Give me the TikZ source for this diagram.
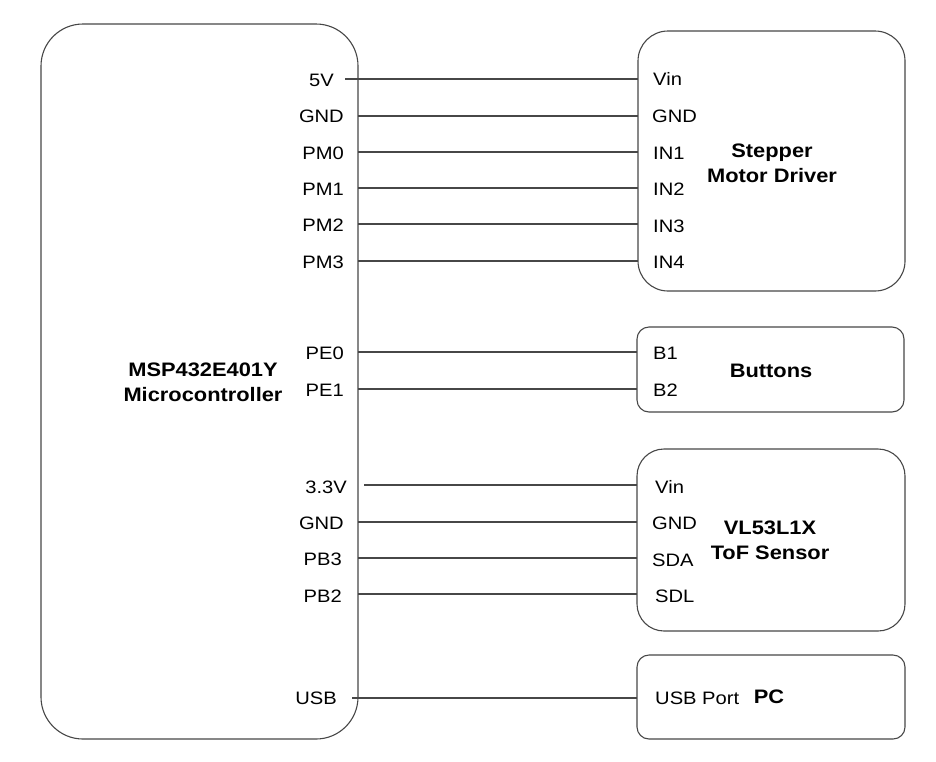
\documentclass[tikz,border=0pt]{standalone}
\usepackage{fontspec}
\setmainfont{Liberation Sans}[FakeStretch=1.12]
\newcommand\pinfont{\fontsize{18}{21}\selectfont}
\newcommand\titlefont{\fontsize{19.5}{25}\selectfont\bfseries}
\begin{document}
\begin{tikzpicture}[x=1pt,y=-1pt,
  boxstyle/.style={draw=black!72, line width=1.1pt, inner sep=0pt, outer sep=0pt, anchor=north west},
  wire/.style={draw=black!72, line width=1.1pt},
  pinl/.style={anchor=east, inner sep=0pt, font=\pinfont, text height=12.9pt, text depth=0pt},
  pinr/.style={anchor=west, inner sep=0pt, font=\pinfont, text height=12.9pt, text depth=0pt},
  title/.style={align=center, font=\titlefont, inner sep=0pt}]
\useasboundingbox (0,0) rectangle (936,761);
% boxes
\node[boxstyle, rounded corners=42pt, minimum width=317pt, minimum height=715pt] (mcu) at (41,24) {};
\node[boxstyle, rounded corners=30pt, minimum width=267pt, minimum height=260pt] (stepper) at (638,31) {};
\node[boxstyle, rounded corners=12pt, minimum width=267pt, minimum height=85pt] (buttons) at (637,327) {};
\node[boxstyle, rounded corners=27pt, minimum width=268pt, minimum height=182pt] (tof) at (637,449) {};
\node[boxstyle, rounded corners=12pt, minimum width=268pt, minimum height=84pt] (pc) at (637,655) {};
% titles
\node[title] (mcut) at (203,382) {MSP432E401Y\\Microcontroller};
\node[title] (stept) at (772,163) {Stepper\\Motor Driver};
\node[title] (butt) at (771,371) {Buttons};
\node[title] (toft) at (770,540) {VL53L1X\\ToF Sensor};
\node[title] (pct) at (769,697) {PC};
% left pin labels
\node[pinl] (l5v) at (334,80) {5V};
\node[pinl] (lgnd) at (344,116) {GND};
\node[pinl] (lpm0) at (344,153) {PM0};
\node[pinl] (lpm1) at (344,189) {PM1};
\node[pinl] (lpm2) at (344,225) {PM2};
\node[pinl] (lpm3) at (344,262) {PM3};
\node[pinl] (lpe0) at (344,353) {PE0};
\node[pinl] (lpe1) at (344,390) {PE1};
\node[pinl] (l33v) at (347,487) {3.3V};
\node[pinl] (lgnd2) at (344,523) {GND};
\node[pinl] (lpb3) at (342,559) {PB3};
\node[pinl] (lpb2) at (342,596) {PB2};
\node[pinl] (lusb) at (337,698) {USB};
% right pin labels
\node[pinr] (rvin) at (653,79) {Vin};
\node[pinr] (rgnd) at (652,116) {GND};
\node[pinr] (rin1) at (653,153) {IN1};
\node[pinr] (rin2) at (653,189) {IN2};
\node[pinr] (rin3) at (653,226) {IN3};
\node[pinr] (rin4) at (653,262) {IN4};
\node[pinr] (rb1) at (653,353) {B1};
\node[pinr] (rb2) at (653,390) {B2};
\node[pinr] (rvin2) at (655,487) {Vin};
\node[pinr] (rgnd2) at (652,523) {GND};
\node[pinr] (rsda) at (652,560) {SDA};
\node[pinr] (rsdl) at (655,596) {SDL};
\node[pinr] (rusb) at (655,698) {USB Port};
% wire start points
\coordinate (w5v) at (345,79);
\coordinate (w33v) at (364,485);
\coordinate (wusb) at (352,698);
% wires
\draw[wire] (w5v) -- (stepper.west |- w5v);
\draw[wire] (mcu.east |- 0,116) -- (stepper.west |- 0,116);
\draw[wire] (mcu.east |- 0,152) -- (stepper.west |- 0,152);
\draw[wire] (mcu.east |- 0,188) -- (stepper.west |- 0,188);
\draw[wire] (mcu.east |- 0,224) -- (stepper.west |- 0,224);
\draw[wire] (mcu.east |- 0,261) -- (stepper.west |- 0,261);
\draw[wire] (mcu.east |- 0,352) -- (buttons.west |- 0,352);
\draw[wire] (mcu.east |- 0,389) -- (buttons.west |- 0,389);
\draw[wire] (w33v) -- (tof.west |- w33v);
\draw[wire] (mcu.east |- 0,522) -- (tof.west |- 0,522);
\draw[wire] (mcu.east |- 0,558) -- (tof.west |- 0,558);
\draw[wire] (mcu.east |- 0,594) -- (tof.west |- 0,594);
\draw[wire] (wusb) -- (pc.west |- wusb);
\end{tikzpicture}
\end{document}
